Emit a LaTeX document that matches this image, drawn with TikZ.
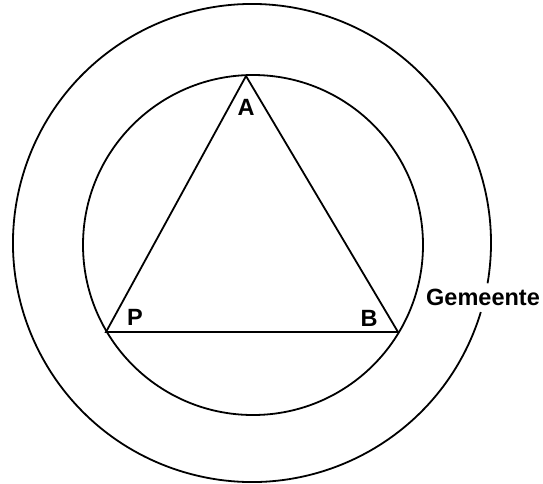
\documentclass[tikz,border=0pt]{standalone}
\usepackage{fontspec}
\setmainfont{Liberation Sans}
\begin{document}
\begin{tikzpicture}[x=1pt,y=-1pt,
  line/.style={line width=1.8pt,black,line join=miter},
  lbl/.style={font=\bfseries\fontsize{23.5}{23.5}\selectfont,inner sep=0pt,anchor=center}]
\useasboundingbox (0,0) rectangle (543,483);
% outer circle with gap for the label
\coordinate (oc) at (252,243);
\draw[line] (oc) ++(16.8:239) arc[start angle=16.8, end angle=369.7, radius=239];
% inner circle
\coordinate (ic) at (253,245);
\draw[line] (ic) circle[radius=170];
% triangle
\coordinate (A) at (246,76);
\coordinate (P) at (106,332);
\coordinate (B) at (398,332);
\draw[line] (A) -- (B) -- (P) -- cycle;
% labels
\node[lbl] (la) at (246,107) {A};
\node[lbl] (lp) at (135,317) {P};
\node[lbl] (lb) at (369,318) {B};
\node[lbl,anchor=base west] (lg) at (426,305) {Gemeente};
\end{tikzpicture}
\end{document}
